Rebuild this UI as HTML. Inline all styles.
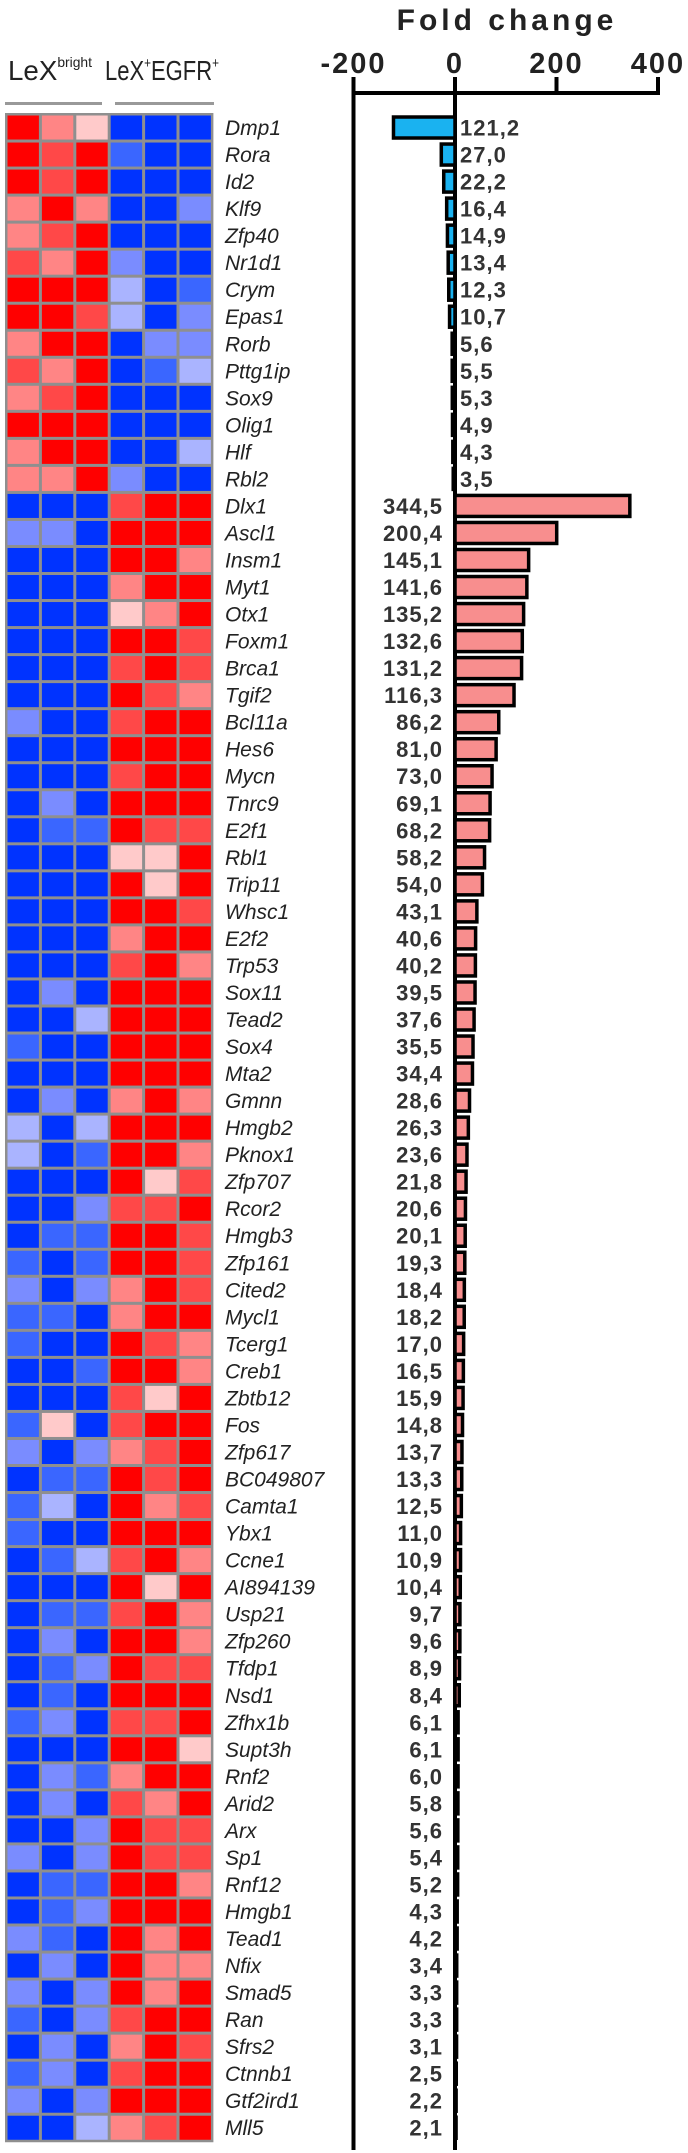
<!DOCTYPE html>
<html><head><meta charset="utf-8"><style>
html,body{margin:0;padding:0;background:#fff;width:688px;height:2153px;overflow:hidden}
svg{display:block}
</style></head><body>
<svg id="fig" width="688" height="2153" viewBox="0 0 688 2153" xmlns="http://www.w3.org/2000/svg" font-family="Liberation Sans, Arial, sans-serif">
  <text x="507" y="30" font-size="30" font-weight="bold" letter-spacing="4" text-anchor="middle" fill="#222">Fold change</text>
  <text x="8" y="80" font-size="28" fill="#222" textLength="84" lengthAdjust="spacingAndGlyphs">LeX<tspan font-size="14" dy="-13">bright</tspan></text>
  <text x="105" y="80" font-size="28" fill="#222" textLength="114" lengthAdjust="spacingAndGlyphs">LeX<tspan font-size="15" dy="-12">+</tspan><tspan dy="12">EGFR</tspan><tspan font-size="15" dy="-12">+</tspan></text>
  <rect x="5" y="102" width="97" height="3" fill="#999"/>
  <rect x="115" y="102" width="99" height="3" fill="#999"/>
  <g id="heat"></g>
  <g id="genes"></g>
  <g id="axis"></g>
  <g id="bars"></g>
  <g id="vals"></g>
</svg>
<script>
const genes = ["Dmp1","Rora","Id2","Klf9","Zfp40","Nr1d1","Crym","Epas1","Rorb","Pttg1ip","Sox9","Olig1","Hlf","Rbl2","Dlx1","Ascl1","Insm1","Myt1","Otx1","Foxm1","Brca1","Tgif2","Bcl11a","Hes6","Mycn","Tnrc9","E2f1","Rbl1","Trip11","Whsc1","E2f2","Trp53","Sox11","Tead2","Sox4","Mta2","Gmnn","Hmgb2","Pknox1","Zfp707","Rcor2","Hmgb3","Zfp161","Cited2","Mycl1","Tcerg1","Creb1","Zbtb12","Fos","Zfp617","BC049807","Camta1","Ybx1","Ccne1","AI894139","Usp21","Zfp260","Tfdp1","Nsd1","Zfhx1b","Supt3h","Rnf2","Arid2","Arx","Sp1","Rnf12","Hmgb1","Tead1","Nfix","Smad5","Ran","Sfrs2","Ctnnb1","Gtf2ird1","Mll5"];
const foldValues = [-121.2,-27.0,-22.2,-16.4,-14.9,-13.4,-12.3,-10.7,-5.6,-5.5,-5.3,-4.9,-4.3,-3.5,344.5,200.4,145.1,141.6,135.2,132.6,131.2,116.3,86.2,81.0,73.0,69.1,68.2,58.2,54.0,43.1,40.6,40.2,39.5,37.6,35.5,34.4,28.6,26.3,23.6,21.8,20.6,20.1,19.3,18.4,18.2,17.0,16.5,15.9,14.8,13.7,13.3,12.5,11.0,10.9,10.4,9.7,9.6,8.9,8.4,6.1,6.1,6.0,5.8,5.6,5.4,5.2,4.3,4.2,3.4,3.3,3.3,3.1,2.5,2.2,2.1];
const tickValues = [-200,0,200,400];
const tickLabels = ["-200","0","200","400"];
const heatRows = ["RpqBBB","RrRbBB","RrRBBB","pRpBBl","prRBBB","rpRlBB","RRRmBb","RRrmBl","pRRBll","rpRBbm","prRBBB","RRRBBB","pRRBBm","ppRlBB",
"BBBrRR","llBRRR","BBBRRp","BBBpRR","BBBqpR","BBBRRr","BBBrRr","BBBRrp","lBBrRR","BBBRRR","BBBrRR","BlBRRR","BbbRrr","BBBqqR","BBBRqR","BBBRRr","BBBpRR","BBBrRp","BlBRRR","BBmRRR","bBBRRR","BBBRRR","BlBpRp",
"mBmRRR","mBbRRp","BBBRqr","BBlrrR","BbbRRr","bBbRRr","lBlpRr","bbBpRR","bBBRrp","BBbRRp","BBBrqR","bqBrRR","lBlprR","BbbRrR","bmBRpr","bBBRRR","BbmrRp","BBBRqR","BbbrRp",
"BlBRRp","BblRrr","BbBRRR","blBrrR","BBBRRq","BlbpRR","BlBrpR","BBlRrr","lBlRrr","BbbRRp","BblRRR","lbBRpR","BlBRpp","lBlRpR","bBlrRR","BlBpRr","blBrRR","lBlRRR","BBmprR"];
const colorMap = {R:"#ff0000",r:"#ff4848",p:"#ff8585",q:"#ffcaca",B:"#0033ff",b:"#3a66ff",l:"#7a8cff",m:"#aab4ff"};

const NS="http://www.w3.org/2000/svg";
function mk(tag, attrs, parent){const e=document.createElementNS(NS,tag);for(const k in attrs)e.setAttribute(k,attrs[k]);parent.appendChild(e);return e;}
const top0=114, pitch=27.03, heatX=6, cellW=34.4;
const zeroX=455, scale=0.5075;
const xs=v=>zeroX+v*scale;
const rowY=i=>top0+i*pitch;

const heat=document.getElementById('heat');
const bg=mk('rect',{x:heatX-1,y:top0-1,width:6*cellW+2,height:heatRows.length*pitch+2,fill:'#8f8f8f'},heat);


heatRows.forEach((row,i)=>{
  for(let j=0;j<6;j++){
    const c=mk('rect',{x:heatX+j*cellW+1.5,y:rowY(i)+1.5,width:cellW-3,height:pitch-3,fill:colorMap[row[j]]},heat);
    
    
  }
});

const gl=document.getElementById('genes');
genes.forEach((g,i)=>{
  const t=mk('text',{x:225,y:rowY(i)+pitch/2+7.5,'font-size':21,'font-style':'italic',fill:'#222'},gl);
  t.textContent=g;
  
  
});

const ax=document.getElementById('axis');
const axisY=93, bottomY=2150;
let l=mk('rect',{x:xs(tickValues[0])-2,y:axisY-2,width:xs(tickValues[tickValues.length-1])-xs(tickValues[0])+4,height:4,fill:'#000'},ax);


tickValues.forEach((v,i)=>{
  const tk=mk('rect',{x:xs(v)-2,y:axisY-16,width:4,height:16,fill:'#000'},ax);
  
  
  const t=mk('text',{x:xs(v),y:73,'font-size':29,'font-weight':'bold','text-anchor':'middle','letter-spacing':2,fill:'#222'},ax);
  t.textContent=tickLabels[i];
  
  
});
l=mk('rect',{x:xs(-200)-2,y:axisY,width:4,height:bottomY-axisY,fill:'#000'},ax);


l=mk('rect',{x:zeroX-2,y:axisY,width:4,height:bottomY-axisY,fill:'#000'},ax);



const bars=document.getElementById('bars'), vals=document.getElementById('vals');
foldValues.forEach((v,i)=>{
  const cy=rowY(i)+pitch/2;
  const x1=Math.min(xs(v),zeroX), w=Math.abs(xs(v)-zeroX);
  const b=mk('rect',{x:x1,y:cy-10.5,width:Math.max(w,1),height:21,fill:v<0?'#1ab2f0':'#f88e8e',stroke:'#000','stroke-width':3.5},bars);
  
  
  const t=mk('text',{x:v<0?zeroX+5:zeroX-12,y:cy+8,'font-size':22,'font-weight':'bold','letter-spacing':1,'text-anchor':v<0?'start':'end',fill:'#333'},vals);
  t.textContent=Math.abs(v).toFixed(1).replace('.',',');
  
  
});
</script>
</body></html>
